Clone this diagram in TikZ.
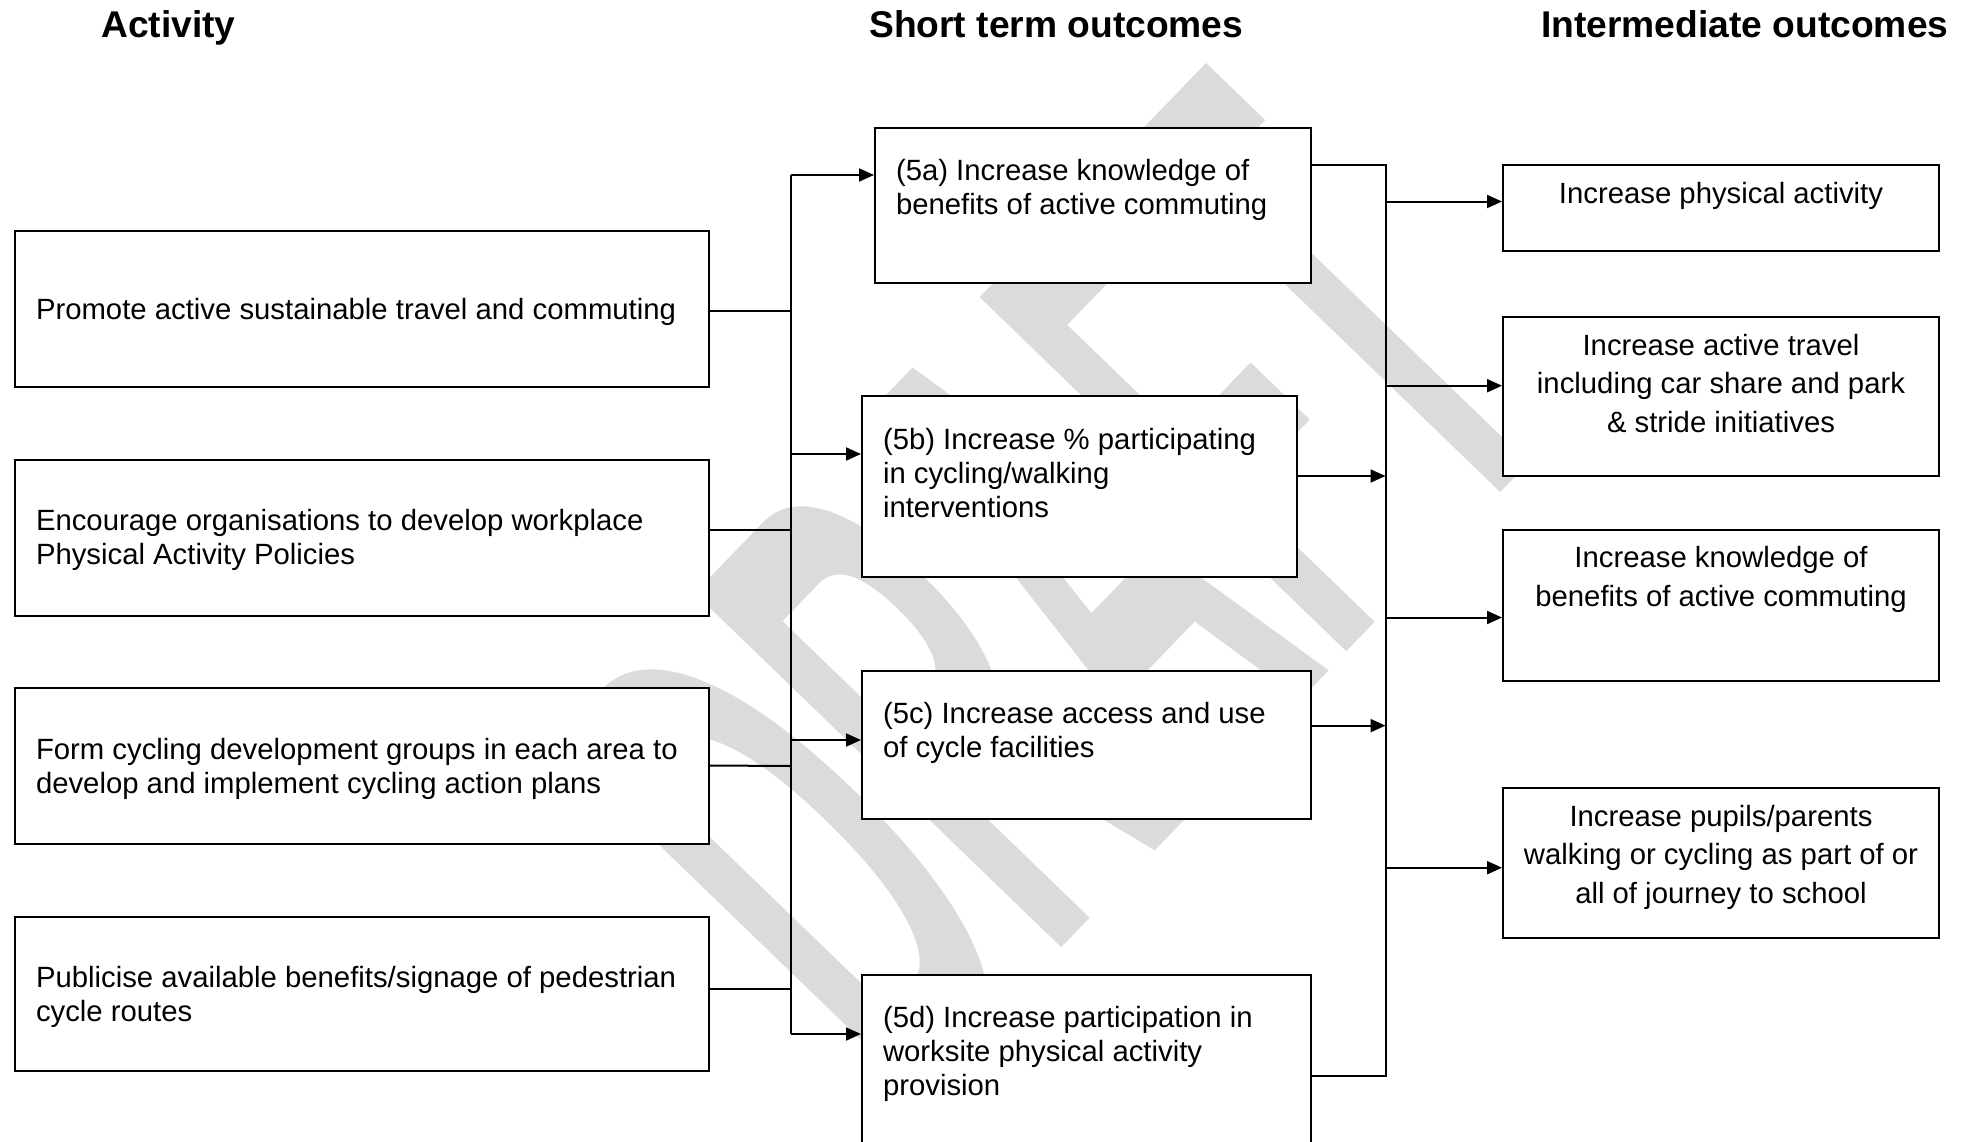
\documentclass[tikz,border=0pt]{standalone}
\usepackage{fontspec}
\setmainfont{Liberation Sans}
\usetikzlibrary{arrows.meta}
\newcommand{\bxtext}[5]{\parbox[c][#2][t]{#1}{\fontsize{29.3}{34}\selectfont #4\vspace*{#3}\noindent\rule{0pt}{30pt}#5}}
\newcommand{\ibxtext}[4]{\parbox[c][#2][t]{#1}{\fontsize{29.3}{38.5}\selectfont\centering\vspace*{#3}\noindent\rule{0pt}{30pt}#4}}
\begin{document}
\begin{tikzpicture}[x=1pt,y=-1pt,
  bx/.style={draw, line width=2pt, fill=white, inner sep=0pt, anchor=north west},
  ttl/.style={anchor=base west, inner sep=0pt, font=\fontsize{37.2}{40}\selectfont\bfseries},
  ln/.style={line width=2pt},
  arr/.style={line width=2pt, -{Triangle[length=15pt,width=13pt]}},
  wm/.style={text=black!14, inner sep=0pt, font=\fontsize{285}{300}\selectfont\bfseries}]
\useasboundingbox (0,0) rectangle (1964,1141);
\clip (0,0) rectangle (1964,1141);
% watermark
\node[wm, anchor=base west, rotate=46, yscale=2.6] (wmk) at (905,1110) {DRAFT};
% titles
\node[ttl] (t1) at (101,37.7) {Activity};
\node[ttl] (t2) at (869,37.7) {Short term outcomes};
\node[ttl] (t3) at (1541,37.7) {Intermediate outcomes};
% activity boxes
\node[bx] (a1) at (14,230) {\bxtext{694pt}{156pt}{58pt}{\raggedright\leftskip=21pt}{Promote active sustainable travel and commuting}};
\node[bx] (a2) at (14,458.5) {\bxtext{694pt}{156pt}{40.5pt}{\raggedright\leftskip=21pt}{Encourage organisations to develop workplace\\ Physical Activity Policies}};
\node[bx] (a3) at (14,687) {\bxtext{694pt}{156pt}{41pt}{\raggedright\leftskip=21pt}{Form cycling development groups in each area to\\ develop and implement cycling action plans}};
\node[bx] (a4) at (14,916) {\bxtext{694pt}{154pt}{40pt}{\raggedright\leftskip=21pt}{Publicise available benefits/signage of pedestrian\\ cycle routes}};
% short term boxes
\node[bx] (s5a) at (874,126.6) {\bxtext{436pt}{155pt}{22.5pt}{\raggedright\leftskip=21pt}{(5a) Increase knowledge of\\ benefits of active commuting}};
\node[bx] (s5b) at (861,395) {\bxtext{435pt}{181pt}{23.5pt}{\raggedright\leftskip=21pt}{(5b) Increase \% participating\\ in cycling/walking\\ interventions}};
\node[bx] (s5c) at (861,669.6) {\bxtext{449pt}{148pt}{22.5pt}{\raggedright\leftskip=21pt}{(5c) Increase access and use\\ of cycle facilities}};
\node[bx] (s5d) at (861,974) {\bxtext{449pt}{230pt}{22pt}{\raggedright\leftskip=21pt}{(5d) Increase participation in\\ worksite physical activity\\ provision}};
% intermediate boxes
\node[bx] (i1) at (1502,164) {\ibxtext{436pt}{85.5pt}{8pt}{Increase physical activity}};
\node[bx] (i2) at (1502,316) {\ibxtext{436pt}{159pt}{8pt}{Increase active travel\\ including car share and park\\ \& stride initiatives}};
\node[bx] (i3) at (1502,528.6) {\ibxtext{436pt}{151pt}{8pt}{Increase knowledge of\\ benefits of active commuting}};
\node[bx] (i4) at (1502,787) {\ibxtext{436pt}{150pt}{8pt}{Increase pupils/parents\\ walking or cycling as part of or\\ all of journey to school}};
% left bus
\coordinate (lt) at (791,175);
\coordinate (lb) at (791,1034);
\coordinate (j5b) at (791,454);
\coordinate (j5c) at (791,740);
\coordinate (ja3) at (791,766);
\draw[ln] (lt) -- (lb);
\draw[ln] ([yshift=-2pt]a1.east) -- ([yshift=-2pt]a1.east -| lt);
\draw[ln] ([yshift=8pt]a2.east) -- ([yshift=8pt]a2.east -| lt);
\draw[ln] ([yshift=0.5pt]a3.east) -- (ja3);
\draw[ln] ([yshift=5pt]a4.east) -- ([yshift=5pt]a4.east -| lt);
\draw[arr] (lt) -- (lt -| s5a.west);
\draw[arr] (j5b) -- (j5b -| s5b.west);
\draw[arr] (j5c) -- (j5c -| s5c.west);
\draw[arr] (lb) -- (lb -| s5d.west);
% right bus
\coordinate (rt) at (1385.5,164.5);
\coordinate (rbot) at (1385.5,1075.7);
\coordinate (r5b) at (1385.5,476);
\coordinate (r5c) at (1385.5,725.6);
\coordinate (ri1) at (1385.5,201.5);
\coordinate (ri2) at (1385.5,385.7);
\coordinate (ri3) at (1385.5,617.5);
\coordinate (ri4) at (1385.5,867.7);
\draw[ln] (rt -| s5a.east) -- (rt) -- (rbot) -- (rbot -| s5d.east);
\draw[arr] (r5b -| s5b.east) -- (r5b);
\draw[arr] (r5c -| s5c.east) -- (r5c);
\draw[arr] (ri1) -- (ri1 -| i1.west);
\draw[arr] (ri2) -- (ri2 -| i2.west);
\draw[arr] (ri3) -- (ri3 -| i3.west);
\draw[arr] (ri4) -- (ri4 -| i4.west);
\end{tikzpicture}
\end{document}
